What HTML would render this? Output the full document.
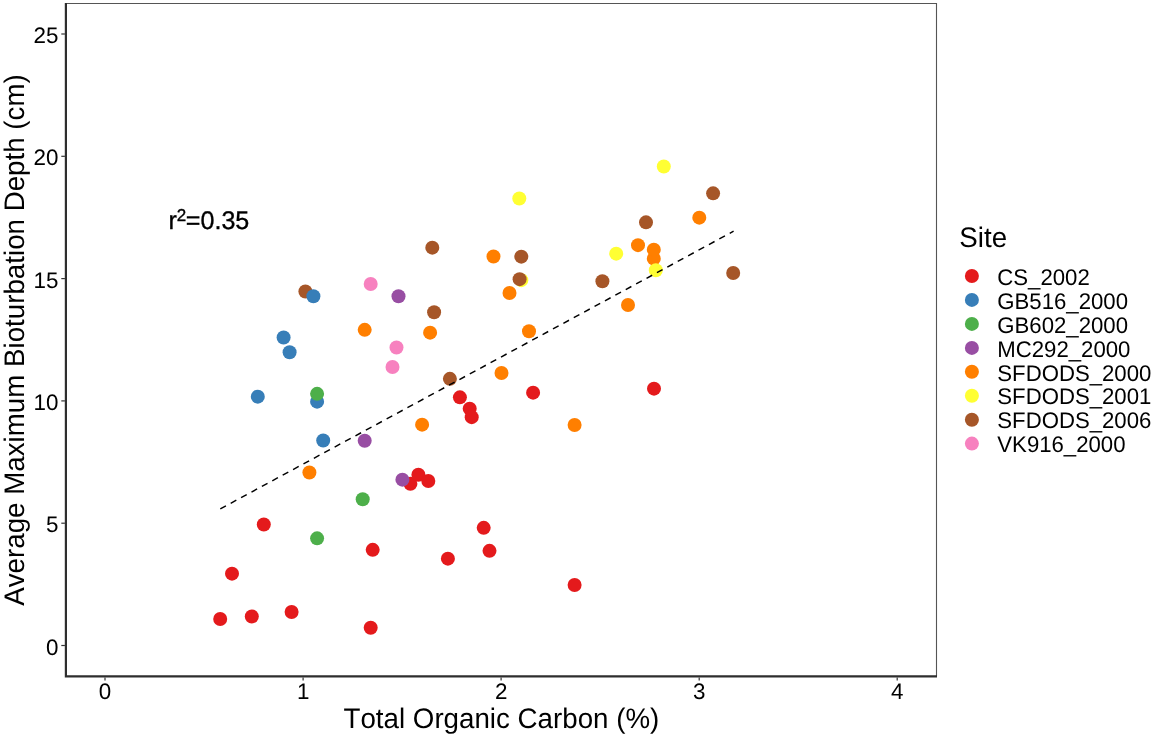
<!DOCTYPE html>
<html lang="en">
<head>
<meta charset="utf-8">
<title>Total Organic Carbon vs Average Maximum Bioturbation Depth</title>
<style>
html,body{margin:0;padding:0;background:#fff;}
body{width:1158px;height:741px;overflow:hidden;}
svg{display:block;font-family:"Liberation Sans",Arial,Helvetica,sans-serif;fill:#000;}
text{stroke:none;font-kerning:none;font-variant-ligatures:none;text-rendering:geometricPrecision;}
.tick{font-size:22.4px;}
.title{font-size:27.72px;}
.leg{font-size:22.18px;}
.ax{stroke:#2e2e2e;stroke-width:2.2;fill:none;}
.tk{stroke:#333;stroke-width:1.2;}
</style>
</head>
<body>
<svg width="1158" height="741" viewBox="0 0 1158 741">
<rect x="0" y="0" width="1158" height="741" fill="#ffffff"/>

<path d="M65.9 3.5 H936.5 V676.4" stroke="#555" stroke-width="1.1" fill="none"/>
<g>
<circle cx="364.70" cy="329.85" r="7.00" fill="#FF7F00"/>
<circle cx="430.10" cy="332.65" r="7.00" fill="#FF7F00"/>
<circle cx="493.50" cy="256.45" r="7.00" fill="#FF7F00"/>
<circle cx="509.50" cy="292.95" r="7.00" fill="#FF7F00"/>
<circle cx="529.00" cy="331.25" r="7.00" fill="#FF7F00"/>
<circle cx="501.50" cy="373.05" r="7.00" fill="#FF7F00"/>
<circle cx="422.10" cy="424.65" r="7.00" fill="#FF7F00"/>
<circle cx="309.40" cy="472.55" r="7.00" fill="#FF7F00"/>
<circle cx="574.60" cy="424.95" r="7.00" fill="#FF7F00"/>
<circle cx="628.00" cy="305.05" r="7.00" fill="#FF7F00"/>
<circle cx="638.00" cy="245.15" r="7.00" fill="#FF7F00"/>
<circle cx="653.80" cy="258.65" r="7.00" fill="#FF7F00"/>
<circle cx="653.80" cy="249.65" r="7.00" fill="#FF7F00"/>
<circle cx="699.30" cy="217.65" r="7.00" fill="#FF7F00"/>
<circle cx="663.80" cy="166.55" r="7.00" fill="#FFFF33"/>
<circle cx="519.30" cy="198.55" r="7.00" fill="#FFFF33"/>
<circle cx="616.20" cy="253.65" r="7.00" fill="#FFFF33"/>
<circle cx="655.80" cy="270.25" r="7.00" fill="#FFFF33"/>
<circle cx="521.30" cy="280.15" r="7.00" fill="#FFFF33"/>
<circle cx="432.30" cy="247.65" r="7.00" fill="#A65628"/>
<circle cx="305.40" cy="291.45" r="7.00" fill="#A65628"/>
<circle cx="434.10" cy="312.25" r="7.00" fill="#A65628"/>
<circle cx="449.90" cy="378.85" r="7.00" fill="#A65628"/>
<circle cx="521.30" cy="256.65" r="7.00" fill="#A65628"/>
<circle cx="519.60" cy="279.15" r="7.00" fill="#A65628"/>
<circle cx="602.40" cy="281.25" r="7.00" fill="#A65628"/>
<circle cx="646.00" cy="222.35" r="7.00" fill="#A65628"/>
<circle cx="713.10" cy="193.35" r="7.00" fill="#A65628"/>
<circle cx="733.20" cy="272.95" r="7.00" fill="#A65628"/>
<circle cx="220.20" cy="618.95" r="7.00" fill="#E41A1C"/>
<circle cx="251.80" cy="616.45" r="7.00" fill="#E41A1C"/>
<circle cx="291.60" cy="611.95" r="7.00" fill="#E41A1C"/>
<circle cx="370.70" cy="627.75" r="7.00" fill="#E41A1C"/>
<circle cx="232.00" cy="573.65" r="7.00" fill="#E41A1C"/>
<circle cx="263.80" cy="524.55" r="7.00" fill="#E41A1C"/>
<circle cx="372.70" cy="549.85" r="7.00" fill="#E41A1C"/>
<circle cx="447.90" cy="558.65" r="7.00" fill="#E41A1C"/>
<circle cx="483.70" cy="527.85" r="7.00" fill="#E41A1C"/>
<circle cx="489.50" cy="550.85" r="7.00" fill="#E41A1C"/>
<circle cx="574.60" cy="584.95" r="7.00" fill="#E41A1C"/>
<circle cx="410.40" cy="483.85" r="7.00" fill="#E41A1C"/>
<circle cx="418.40" cy="474.75" r="7.00" fill="#E41A1C"/>
<circle cx="428.30" cy="481.05" r="7.00" fill="#E41A1C"/>
<circle cx="459.90" cy="397.35" r="7.00" fill="#E41A1C"/>
<circle cx="469.70" cy="408.65" r="7.00" fill="#E41A1C"/>
<circle cx="471.70" cy="417.15" r="7.00" fill="#E41A1C"/>
<circle cx="533.10" cy="392.65" r="7.00" fill="#E41A1C"/>
<circle cx="654.00" cy="388.65" r="7.00" fill="#E41A1C"/>
<circle cx="313.40" cy="296.25" r="7.00" fill="#377EB8"/>
<circle cx="283.60" cy="337.45" r="7.00" fill="#377EB8"/>
<circle cx="289.60" cy="352.25" r="7.00" fill="#377EB8"/>
<circle cx="257.80" cy="396.65" r="7.00" fill="#377EB8"/>
<circle cx="317.10" cy="401.65" r="7.00" fill="#377EB8"/>
<circle cx="323.20" cy="440.45" r="7.00" fill="#377EB8"/>
<circle cx="317.10" cy="393.85" r="7.00" fill="#4DAF4A"/>
<circle cx="362.70" cy="499.25" r="7.00" fill="#4DAF4A"/>
<circle cx="317.10" cy="538.35" r="7.00" fill="#4DAF4A"/>
<circle cx="398.50" cy="296.25" r="7.00" fill="#984EA3"/>
<circle cx="364.70" cy="440.75" r="7.00" fill="#984EA3"/>
<circle cx="402.40" cy="479.65" r="7.00" fill="#984EA3"/>
<circle cx="370.70" cy="283.95" r="7.00" fill="#F781BF"/>
<circle cx="396.50" cy="347.55" r="7.00" fill="#F781BF"/>
<circle cx="392.50" cy="367.05" r="7.00" fill="#F781BF"/>
</g>
<line x1="220.3" y1="508.9" x2="733.6" y2="231.2" stroke="#000" stroke-width="1.45" stroke-dasharray="6.4 5.42"/>
<path class="ax" d="M65.9 3.0 V676.4 H937.0"/>
<line class="tk" x1="105.0" y1="677.4" x2="105.0" y2="680.5"/>
<text class="tick" transform="translate(105.0 699.4) scale(1 1.0)" text-anchor="middle">0</text>
<line class="tk" x1="303.1" y1="677.4" x2="303.1" y2="680.5"/>
<text class="tick" transform="translate(303.1 699.4) scale(1 1.0)" text-anchor="middle">1</text>
<line class="tk" x1="501.1" y1="677.4" x2="501.1" y2="680.5"/>
<text class="tick" transform="translate(501.1 699.4) scale(1 1.0)" text-anchor="middle">2</text>
<line class="tk" x1="699.2" y1="677.4" x2="699.2" y2="680.5"/>
<text class="tick" transform="translate(699.2 699.4) scale(1 1.0)" text-anchor="middle">3</text>
<line class="tk" x1="897.2" y1="677.4" x2="897.2" y2="680.5"/>
<text class="tick" transform="translate(897.2 699.4) scale(1 1.0)" text-anchor="middle">4</text>
<line class="tk" x1="61.3" y1="645.5" x2="64.9" y2="645.5"/>
<text class="tick" transform="translate(58.4 654.6) scale(1 1.0)" text-anchor="end">0</text>
<line class="tk" x1="61.3" y1="523.2" x2="64.9" y2="523.2"/>
<text class="tick" transform="translate(58.4 532.3) scale(1 1.0)" text-anchor="end">5</text>
<line class="tk" x1="61.3" y1="400.9" x2="64.9" y2="400.9"/>
<text class="tick" transform="translate(58.4 410.0) scale(1 1.0)" text-anchor="end">10</text>
<line class="tk" x1="61.3" y1="278.6" x2="64.9" y2="278.6"/>
<text class="tick" transform="translate(58.4 287.7) scale(1 1.0)" text-anchor="end">15</text>
<line class="tk" x1="61.3" y1="156.3" x2="64.9" y2="156.3"/>
<text class="tick" transform="translate(58.4 165.4) scale(1 1.0)" text-anchor="end">20</text>
<line class="tk" x1="61.3" y1="34.0" x2="64.9" y2="34.0"/>
<text class="tick" transform="translate(58.4 43.1) scale(1 1.0)" text-anchor="end">25</text>
<text class="title" transform="translate(501.4 728.2) scale(1 1.02)" text-anchor="middle">Total Organic Carbon (%)</text>
<text class="title" transform="translate(23.8 340.0) rotate(-90) scale(1 1.02)" text-anchor="middle">Average Maximum Bioturbation Depth (cm)</text>
<text transform="translate(168.4 228.9) scale(1 1.015)" style="font-size:25.1px;stroke:#000;stroke-width:0.35px">r<tspan dy="-7.4" style="font-size:17px">2</tspan><tspan dy="7.4" dx="-0.4">=0.35</tspan></text>
<text class="title" transform="translate(959.3 247.0) scale(1 1.02)">Site</text>
<circle cx="971.9" cy="276.0" r="7.00" fill="#E41A1C"/>
<text class="leg" transform="translate(997.3 284.7) scale(1 1.02)">CS_2002</text>
<circle cx="971.9" cy="299.9" r="7.00" fill="#377EB8"/>
<text class="leg" transform="translate(997.3 308.6) scale(1 1.02)">GB516_2000</text>
<circle cx="971.9" cy="323.9" r="7.00" fill="#4DAF4A"/>
<text class="leg" transform="translate(997.3 332.6) scale(1 1.02)">GB602_2000</text>
<circle cx="971.9" cy="347.9" r="7.00" fill="#984EA3"/>
<text class="leg" transform="translate(997.3 356.6) scale(1 1.02)">MC292_2000</text>
<circle cx="971.9" cy="371.8" r="7.00" fill="#FF7F00"/>
<text class="leg" transform="translate(997.3 380.5) scale(1 1.02)">SFDODS_2000</text>
<circle cx="971.9" cy="395.8" r="7.00" fill="#FFFF33"/>
<text class="leg" transform="translate(997.3 404.4) scale(1 1.02)">SFDODS_2001</text>
<circle cx="971.9" cy="419.7" r="7.00" fill="#A65628"/>
<text class="leg" transform="translate(997.3 428.4) scale(1 1.02)">SFDODS_2006</text>
<circle cx="971.9" cy="443.6" r="7.00" fill="#F781BF"/>
<text class="leg" transform="translate(997.3 452.3) scale(1 1.02)">VK916_2000</text>
</svg>
</body>
</html>
